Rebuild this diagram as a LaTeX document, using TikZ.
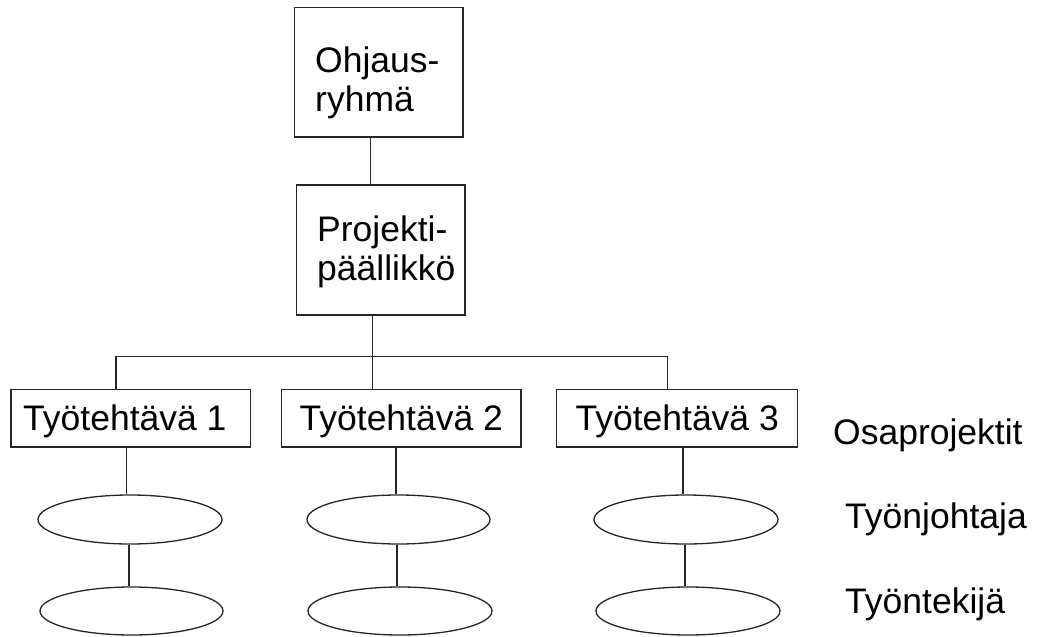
\documentclass[tikz,border=0pt]{standalone}
\usepackage{fontspec}
\setmainfont{Liberation Sans}
\usetikzlibrary{shapes.geometric}
\begin{document}
\begin{tikzpicture}[x=1pt,y=1pt,
  conn/.style={line width=1.3pt, draw=black!85},
  bigbox/.style={rectangle, draw=black!85, line width=1.3pt, inner sep=0pt},
  taskbox/.style={bigbox, minimum height=57.7pt, text height=25pt, text depth=0pt},
  oval/.style={ellipse, draw=black!85, line width=1.3pt, inner sep=0pt, minimum width=184pt, minimum height=49pt},
  txt/.style={font=\fontsize{35.5}{39}\selectfont, inner sep=0pt},
]
\useasboundingbox (0,0) rectangle (1042,-637);

% top boxes
\node[bigbox, minimum width=168.5pt, minimum height=129.5pt] (oh) at (378.75,-72.25) {};
\node[txt, anchor=base west, align=left] (ohT) at (315,-111.5) {Ohjaus-\\ryhmä};
\node[bigbox, minimum width=168.3pt, minimum height=130pt] (pp) at (380.85,-250) {};
\node[txt, anchor=base west, align=left] (ppT) at (317,-280) {Projekti-\\päällikkö};

% task boxes
\node[taskbox, txt, minimum width=239.7pt] (t1) at (130.85,-418) {Työtehtävä 1\kern12pt};
\node[taskbox, txt, minimum width=239.3pt] (t2) at (401.3,-418) {Työtehtävä 2};
\node[taskbox, txt, minimum width=241pt] (t3) at (677.2,-418) {Työtehtävä 3};

% ellipses
\node[oval] (e11) at (130,-519.5) {};
\node[oval, minimum width=183pt] (e21) at (398.5,-519.5) {};
\node[oval] (e31) at (686,-519.5) {};
\node[oval, minimum width=183pt, minimum height=48pt] (e12) at (131.5,-611) {};
\node[oval, minimum height=48pt] (e22) at (400,-611) {};
\node[oval, minimum height=48pt] (e32) at (688,-611) {};

% labels
\node[txt, anchor=base west] (lab1) at (833,-444) {Osaprojektit};
\node[txt, anchor=base west] (lab2) at (845,-528) {Työnjohtaja};
\node[txt, anchor=base west] (lab3) at (845,-613) {Työntekijä};

% connectors
\coordinate (bus) at (0,-356.7);
\draw[conn] ([xshift=-8pt]oh.south) -- ([xshift=-8pt]oh.south |- pp.north);
\draw[conn] ([xshift=-8.15pt]pp.south) -- ([xshift=-8.15pt]pp.south |- bus);
\draw[conn] ([xshift=-14.85pt]t1.north) |- ([xshift=-9.5pt]t3.north |- bus) -- ([xshift=-9.5pt]t3.north);
\draw[conn] ([xshift=-28.6pt]t2.north) -- ([xshift=-28.6pt]t2.north |- bus);

\draw[conn] ([xshift=-4.15pt]t1.south) -- ([xshift=-4.15pt]t1.south |- e11.north);
\draw[conn] ([xshift=-5.3pt]t2.south) -- ([xshift=-5.3pt]t2.south |- e21.north);
\draw[conn] ([xshift=5.8pt]t3.south) -- ([xshift=5.8pt]t3.south |- e31.north);

\draw[conn] ([xshift=-1pt]e11.south) -- ([xshift=-1pt]e11.south |- e12.north);
\draw[conn] ([xshift=-1.5pt]e21.south) -- ([xshift=-1.5pt]e21.south |- e22.north);
\draw[conn] ([xshift=-1pt]e31.south) -- ([xshift=-1pt]e31.south |- e32.north);
\end{tikzpicture}
\end{document}
